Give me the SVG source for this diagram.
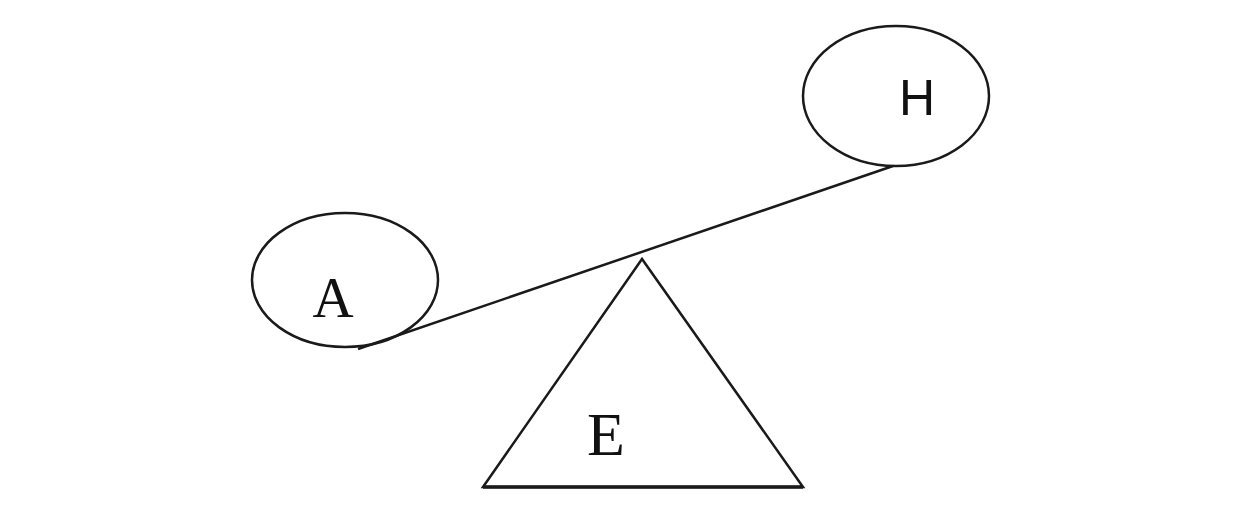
<svg xmlns="http://www.w3.org/2000/svg" width="1238" height="532" viewBox="0 0 1238 532">
<style>
.n{fill:none;stroke:#1a1a1a;stroke-width:2.5}
.t{fill:#111;text-anchor:middle}
.s{font-family:"Liberation Serif",serif}
.a{font-family:"Liberation Sans",sans-serif}
</style>
<rect width="1238" height="532" fill="#fff"/>
<g id="connectors">
<line class="n" x1="358" y1="349" x2="893" y2="166" stroke-width="3"/>
</g>
<g id="node-A">
<ellipse class="n" cx="345" cy="280" rx="93" ry="67"/>
<text class="t s" x="333" y="317" font-size="57">A</text>
</g>
<g id="node-H">
<ellipse class="n" cx="896" cy="96" rx="93" ry="70"/>
<text class="t a" x="917" y="115" font-size="50" fill="#333">H</text>
</g>
<g id="node-E">
<path class="n" d="M642 259 L483 487 L803 487 Z"/>
<line x1="483" y1="487" x2="803" y2="487" stroke="#1a1a1a" stroke-width="3.5"/>
<text class="t s" x="606" y="455" font-size="62">E</text>
</g>
</svg>
